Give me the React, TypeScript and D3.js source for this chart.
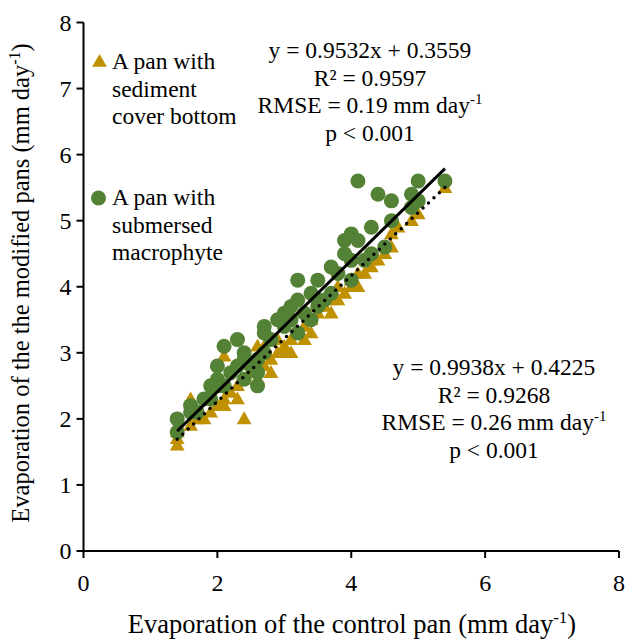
import React from "react";
import * as d3 from "d3";

// Data
const sedimentPoints: [number, number][] = [
  [1.4, 1.6], [1.4, 1.7], [1.4, 1.8], [1.6, 1.9], [1.6, 2.3], [1.7, 2.0], [1.8, 2.0],
  [1.9, 2.1], [2.0, 2.2], [2.1, 2.2], [2.1, 2.3], [2.1, 2.95], [2.2, 2.4], [2.3, 2.3],
  [2.3, 2.5], [2.4, 2.0], [2.4, 2.6], [2.5, 2.7], [2.6, 2.6], [2.6, 3.1], [2.7, 2.8],
  [2.7, 3.1], [2.8, 2.9], [2.8, 2.7], [2.9, 3.0], [2.9, 3.2], [3.0, 3.0], [3.0, 3.1],
  [3.1, 3.0], [3.1, 3.2], [3.2, 3.3], [3.3, 3.2], [3.3, 3.4], [3.4, 3.3], [3.4, 3.5],
  [3.5, 3.6], [3.5, 3.7], [3.6, 3.7], [3.7, 3.8], [3.7, 3.6], [3.8, 3.8], [3.8, 4.0],
  [3.9, 3.9], [4.0, 4.0], [4.0, 4.1], [4.1, 4.0], [4.1, 4.2], [4.2, 4.2], [4.3, 4.3],
  [4.3, 4.4], [4.4, 4.4], [4.5, 4.5], [4.6, 4.6], [4.6, 4.8], [4.7, 4.9], [4.9, 5.0],
  [5.0, 5.1], [5.4, 5.5],
];

const macrophytePoints: [number, number][] = [
  [1.4, 1.8], [1.4, 2.0], [1.6, 2.1], [1.6, 2.2], [1.7, 2.1], [1.8, 2.3], [1.9, 2.3],
  [1.9, 2.5], [2.0, 2.5], [2.0, 2.6], [2.0, 2.8], [2.1, 2.5], [2.1, 3.1], [2.2, 2.7],
  [2.3, 2.8], [2.3, 3.2], [2.4, 2.6], [2.4, 2.9], [2.4, 3.0], [2.5, 2.8], [2.6, 2.5],
  [2.6, 2.7], [2.6, 2.9], [2.7, 3.0], [2.7, 3.3], [2.7, 3.4], [2.8, 3.2], [2.9, 3.5],
  [3.0, 3.4], [3.0, 3.6], [3.1, 3.5], [3.1, 3.7], [3.2, 3.3], [3.2, 3.8], [3.2, 4.1],
  [3.3, 3.6], [3.4, 3.5], [3.4, 3.9], [3.5, 3.7], [3.5, 3.8], [3.5, 4.1], [3.6, 3.8],
  [3.7, 3.9], [3.7, 4.3], [3.8, 4.2], [3.9, 4.5], [3.9, 4.7], [4.0, 4.1], [4.0, 4.4],
  [4.0, 4.8], [4.1, 4.7], [4.1, 5.6], [4.2, 4.4], [4.3, 4.5], [4.3, 4.9], [4.4, 5.4],
  [4.5, 4.6], [4.6, 5.0], [4.6, 5.3], [4.9, 5.2], [4.9, 5.4], [5.0, 5.3], [5.0, 5.6],
  [5.4, 5.6],
];

const sedimentFit = { slope: 0.9532, intercept: 0.3559 };
const macrophyteFit = { slope: 0.9938, intercept: 0.4225 };

const sedimentStats = ["y = 0.9532x + 0.3559", "R² = 0.9597", "RMSE = 0.19 mm day", "p < 0.001"];
const macrophyteStats = ["y = 0.9938x + 0.4225", "R² = 0.9268", "RMSE = 0.26 mm day", "p < 0.001"];

const xTicks = [0, 2, 4, 6, 8];
const yTicks = [0, 1, 2, 3, 4, 5, 6, 7, 8];

const legendSediment = ["A pan with", "sediment", "cover bottom"];
const legendMacrophyte = ["A pan with", "submersed", "macrophyte"];

const W = 628;
const H = 639;
const FONT = "'Liberation Serif', 'Times New Roman', serif";
const GOLD = "#BF9000";
const GREEN = "#538135";

export default function App() {
  const x = d3.scaleLinear().domain([0, 8]).range([83.5, 619]);
  const y = d3.scaleLinear().domain([0, 8]).range([551, 22.5]);

  const tri = d3.symbol().type(d3.symbolTriangle).size(95)()!;
  const line = d3.line<[number, number]>().x((d) => x(d[0])).y((d) => y(d[1]));

  const fitLine = (fit: { slope: number; intercept: number }, pts: [number, number][]) => {
    const [x0, x1] = d3.extent(pts, (d) => d[0]) as [number, number];
    return line([
      [x0, fit.slope * x0 + fit.intercept],
      [x1, fit.slope * x1 + fit.intercept],
    ])!;
  };

  const statBlock = (lines: string[], cx: number, y0: number) => (
    <text fontFamily={FONT} fontSize={23.5} textAnchor="middle" fill="#000">
      {lines.map((l, i) => (
        <tspan key={i} x={cx} y={y0 + i * 27.5}>
          {l}
          {i === 2 ? (
            <tspan fontSize={15} dy={-9}>
              -1
            </tspan>
          ) : null}
        </tspan>
      ))}
    </text>
  );

  return (
    <svg
      width={W}
      height={H}
      style={{ position: "absolute", left: 0, top: 0, background: "#fff" }}
    >
      {/* axes */}
      <line x1={x(0)} x2={x(8)} y1={y(0)} y2={y(0)} stroke="#000" strokeWidth={2} />
      <line x1={x(0)} x2={x(0)} y1={y(0)} y2={y(8)} stroke="#000" strokeWidth={2} />
      {xTicks.map((t) => (
        <g key={"x" + t}>
          <line x1={x(t)} x2={x(t)} y1={y(0)} y2={y(0) + 7} stroke="#000" strokeWidth={2} />
          <text
            x={x(t)}
            y={y(0) + 40}
            textAnchor="middle"
            fontFamily={FONT}
            fontSize={24}
          >
            {t}
          </text>
        </g>
      ))}
      {yTicks.map((t) => (
        <g key={"y" + t}>
          <line x1={x(0) - 7} x2={x(0)} y1={y(t)} y2={y(t)} stroke="#000" strokeWidth={2} />
          <text
            x={x(0) - 12}
            y={y(t) + 8}
            textAnchor="end"
            fontFamily={FONT}
            fontSize={24}
          >
            {t}
          </text>
        </g>
      ))}

      {/* axis titles */}
      <text x={352} y={633} textAnchor="middle" fontFamily={FONT} fontSize={26.5}>
        Evaporation of the control pan (mm day
        <tspan fontSize={17} dy={-10}>-1</tspan>
        <tspan dy={10}>)</tspan>
      </text>
      <text
        transform="translate(29,283) rotate(-90)"
        textAnchor="middle"
        fontFamily={FONT}
        fontSize={24.5}
      >
        Evaporation of the the modified pans (mm day
        <tspan fontSize={16} dy={-9}>-1</tspan>
        <tspan dy={9}>)</tspan>
      </text>

      {/* points */}
      {sedimentPoints.map((d, i) => (
        <path
          key={"s" + i}
          d={tri}
          transform={`translate(${x(d[0])},${y(d[1]) + 1})`}
          fill={GOLD}
        />
      ))}
      {macrophytePoints.map((d, i) => (
        <circle key={"m" + i} cx={x(d[0])} cy={y(d[1])} r={7.5} fill={GREEN} />
      ))}

      {/* fit lines */}
      <path
        d={fitLine(sedimentFit, sedimentPoints)}
        stroke="#000"
        strokeWidth={3.5}
        strokeDasharray="0 7.5"
        strokeLinecap="round"
        fill="none"
      />
      <path d={fitLine(macrophyteFit, macrophytePoints)} stroke="#000" strokeWidth={3} fill="none" />

      {/* legend */}
      <path d={tri} transform="translate(99.5,62.5)" fill={GOLD} />
      <text fontFamily={FONT} fontSize={23.5}>
        {legendSediment.map((l, i) => (
          <tspan key={i} x={112} y={69 + i * 27.5}>
            {l}
          </tspan>
        ))}
      </text>
      <circle cx={98.5} cy={198} r={7.5} fill={GREEN} />
      <text fontFamily={FONT} fontSize={23.5}>
        {legendMacrophyte.map((l, i) => (
          <tspan key={i} x={112} y={205 + i * 27.5}>
            {l}
          </tspan>
        ))}
      </text>

      {/* stats */}
      {statBlock(sedimentStats, 370, 58)}
      {statBlock(macrophyteStats, 494, 375)}
    </svg>
  );
}
